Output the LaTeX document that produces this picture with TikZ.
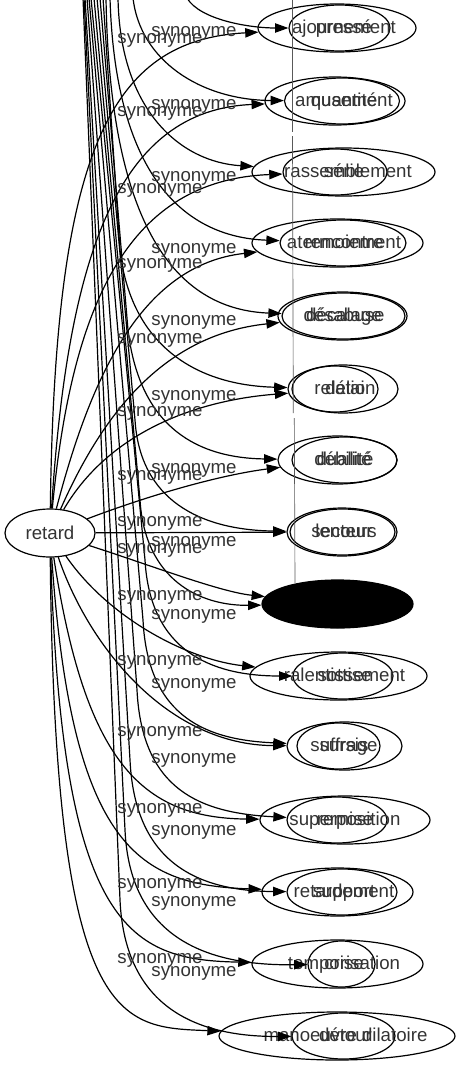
\documentclass[tikz,border=0pt]{standalone}
\usepackage{fontspec}
\setmainfont{Liberation Sans}
\usetikzlibrary{arrows.meta,shapes.geometric}
\begin{document}
\begin{tikzpicture}[x=0.75pt,y=-0.75pt,
  every node/.style={font=\fontsize{14}{16}\selectfont, text=black!80},
  ell/.style 2 args={ellipse, draw=black, line width=0.9pt, minimum width=#1*0.75pt, minimum height=#2*0.75pt, inner sep=0pt},
  txt/.style={inner sep=0pt, anchor=base},
  edge/.style={draw=black, line width=0.9pt, -{Triangle[length=10pt,width=7pt]}},
  lab/.style={anchor=mid, inner sep=0pt},
  guide/.style={draw=black!65, line width=0.5pt}]
\useasboundingbox (0,0) rectangle (461,1067);
\clip (0,0) rectangle (461,1067);

% root
\node[ell={90}{48}] (r) at (50,533) {retard};

% ellipses (outer / inner)
\node[ell={158}{48}] (o1) at (337,28) {};
\node[ell={101}{46}] (i1) at (339.5,28) {};
\node[ell={140}{48}] (o2) at (335,101) {};
\node[ell={115}{46}] (i2) at (342,101) {};
\node[ell={183}{48}] (o3) at (343.5,172) {};
\node[ell={104}{46}] (i3) at (335,172) {};
\node[ell={171}{48}] (o4) at (337.5,243) {};
\node[ell={126}{46}] (i4) at (343,243) {};
\node[ell={129}{48}] (o5) at (342.5,316) {};
\node[ell={123}{46}] (i5) at (343.5,316) {};
\node[ell={110}{48}] (o6) at (343,389) {};
\node[ell={86}{46}] (i6) at (335,389) {};
\node[ell={119}{48}] (o7) at (337.5,460) {};
\node[ell={105}{46}] (i7) at (344.5,460) {};
\node[ell={110}{48}] (o8) at (342,532) {};
\node[ell={105}{46}] (i8) at (342.5,532) {};
\node[ell={151}{48}, fill=black] (k9) at (337.5,604) {};
\node[ell={177}{48}] (o10) at (338.5,676) {};
\node[ell={100}{46}] (i10) at (343,676) {};
\node[ell={115}{48}] (o11) at (344.5,746) {};
\node[ell={83}{46}] (i11) at (338.5,746) {};
\node[ell={170}{48}] (o12) at (345,820) {};
\node[ell={100}{46}] (i12) at (337,820) {};
\node[ell={151}{48}] (o13) at (337.5,892) {};
\node[ell={110}{46}] (i13) at (342,892) {};
\node[ell={171}{48}] (o14) at (337.5,964) {};
\node[ell={67}{46}] (i14) at (341.5,964) {};
\node[ell={236}{48}] (o15) at (337,1036) {};
\node[ell={103}{46}] (i15) at (343.5,1036) {};

% node texts (overlaid, on a common baseline)
\node[txt] (ta1) at (344,33) {ajournement};
\node[txt] (tb1) at (344,33) {pressé};
\node[txt] (ta2) at (344,106) {amusement};
\node[txt] (tb2) at (344,106) {quantité};
\node[txt] (ta3) at (348,177) {rassemblement};
\node[txt] (tb3) at (344,177) {série};
\node[txt] (ta4) at (344,248) {atermoiement};
\node[txt] (tb4) at (344,248) {rencontre};
\node[txt] (ta5) at (344,321) {décalage};
\node[txt] (tb5) at (344,321) {désabuse};
\node[txt] (ta6) at (345,394) {relation};
\node[txt] (tb6) at (345,394) {délai};
\node[txt] (ta7) at (344,465) {débilité};
\node[txt] (tb7) at (344,465) {dualité};
\node[txt] (ta8) at (344,537) {lenteur};
\node[txt] (tb8) at (344,537) {secours};
\node[txt] (ta10) at (344.5,681) {ralentissement};
\node[txt] (tb10) at (344.5,681) {sottise};
\node[txt] (ta11) at (344,751) {suffrage};
\node[txt] (tb11) at (344,751) {sursis};
\node[txt] (ta12) at (345,825) {superposition};
\node[txt] (tb12) at (345,825) {remise};
\node[txt] (ta13) at (344,897) {retardement};
\node[txt] (tb13) at (344,897) {support};
\node[txt] (ta14) at (344,969) {temporisation};
\node[txt] (tb14) at (344,969) {crise};
\node[txt] (ta15) at (345.5,1041) {manoeuvre dilatoire};
\node[txt] (tb15) at (345.5,1041) {détour};

% thin vertical guide line
\draw[guide] (292,0) -- (292,132);
\draw[guide] (292.5,136) -- (293.3,413);
\draw[guide] (294.3,418) -- (295,583);

% edges from retard
\draw[edge] (r) .. controls (55,150) and (110,40) .. (o1);
\draw[edge] (r) .. controls (68,250) and (120,110) .. (o2);
\draw[edge] (r) .. controls (72,300) and (130,180) .. (i3);
\draw[edge] (r) .. controls (90,380) and (140,265) .. (o4);
\draw[edge] (r) .. controls (100,420) and (160,335) .. (o5);
\draw[edge] (r) .. controls (110,430) and (200,400) .. (o6);
\draw[edge] (r) .. controls (150,495) and (220,475) .. (o7);
\draw[edge] (r) -- (o8);
\draw[edge] (r) .. controls (150,565) and (220,592) .. (k9);
\draw[edge] (r) .. controls (110,620) and (190,660) .. (o10);
\draw[edge] (r) .. controls (90,650) and (170,745) .. (o11);
\draw[edge] (r) .. controls (85,760) and (140,818) .. (o12);
\draw[edge] (r) .. controls (72,850) and (140,885) .. (o13);
\draw[edge] (r) .. controls (62,930) and (130,960) .. (o14);
\draw[edge] (r) .. controls (55,1030) and (120,1027) .. (o15);

% edges of the second bundle, coming from above
\coordinate (bt1) at (187,-2);
\coordinate (bt2) at (133,-2);
\coordinate (bt3) at (118,-2);
\coordinate (bt4) at (110,-2);
\coordinate (bt5) at (106,-2);
\coordinate (bt6) at (103,-2);
\coordinate (bt7) at (100,-2);
\coordinate (bt8) at (97,-2);
\coordinate (bt9) at (94,-2);
\coordinate (bt10) at (91,-2);
\coordinate (bt11) at (89,-2);
\coordinate (bt12) at (87,-2);
\coordinate (bt13) at (85,-2);
\coordinate (bt14) at (84,-2);
\coordinate (bt15) at (83,-2);
\draw[edge] (bt1) .. controls (200,20) and (250,28) .. (i1);
\draw[edge] (bt2) .. controls (140,60) and (200,100) .. (i2);
\draw[edge] (bt3) .. controls (120,110) and (180,162) .. (o3);
\draw[edge] (bt4) .. controls (115,170) and (180,237) .. (i4);
\draw[edge] (bt5) .. controls (110,250) and (190,310) .. (i5);
\draw[edge] (bt6) -- (120,250) .. controls (130,340) and (190,385) .. (o6);
\draw[edge] (bt7) -- (128,330) .. controls (140,430) and (200,458) .. (o7);
\draw[edge] (bt8) -- (135,420) .. controls (140,500) and (200,530) .. (o8);
\draw[edge] (bt9) -- (140,500) .. controls (145,580) and (200,606) .. (k9);
\draw[edge] (bt10) -- (145,560) .. controls (150,650) and (210,676) .. (i10);
\draw[edge] (bt11) -- (143,620) .. controls (148,720) and (210,740) .. (o11);
\draw[edge] (bt12) -- (137,690) .. controls (142,790) and (200,813) .. (i12);
\draw[edge] (bt13) -- (130,760) .. controls (135,865) and (200,891) .. (i13);
\draw[edge] (bt14) -- (125,830) .. controls (130,940) and (210,966) .. (i14);
\draw[edge] (bt15) -- (120,900) .. controls (125,1010) and (200,1037) .. (i15);

% edge labels
\node[lab] (la1) at (160,40) {synonyme};
\node[lab] (la2) at (160,113) {synonyme};
\node[lab] (la3) at (160,190) {synonyme};
\node[lab] (la4) at (160,265) {synonyme};
\node[lab] (la5) at (160,340) {synonyme};
\node[lab] (la6) at (160,413) {synonyme};
\node[lab] (la7) at (160,477) {synonyme};
\node[lab] (la8) at (160,523) {synonyme};
\node[lab] (la9) at (160,550) {synonyme};
\node[lab] (la10) at (160,597) {synonyme};
\node[lab] (la11) at (160,662) {synonyme};
\node[lab] (la12) at (160,733) {synonyme};
\node[lab] (la13) at (160,810) {synonyme};
\node[lab] (la14) at (160,885) {synonyme};
\node[lab] (la15) at (160,960) {synonyme};
\node[lab] (lb1) at (194,33) {synonyme};
\node[lab] (lb2) at (194,106) {synonyme};
\node[lab] (lb3) at (194,178) {synonyme};
\node[lab] (lb4) at (194,250) {synonyme};
\node[lab] (lb5) at (194,322) {synonyme};
\node[lab] (lb6) at (194,397) {synonyme};
\node[lab] (lb7) at (194,470) {synonyme};
\node[lab] (lb8) at (194,543) {synonyme};
\node[lab] (lb9) at (194,616) {synonyme};
\node[lab] (lb10) at (194,685) {synonyme};
\node[lab] (lb11) at (194,760) {synonyme};
\node[lab] (lb12) at (194,832) {synonyme};
\node[lab] (lb13) at (194,903) {synonyme};
\node[lab] (lb14) at (194,973) {synonyme};
\end{tikzpicture}
\end{document}
